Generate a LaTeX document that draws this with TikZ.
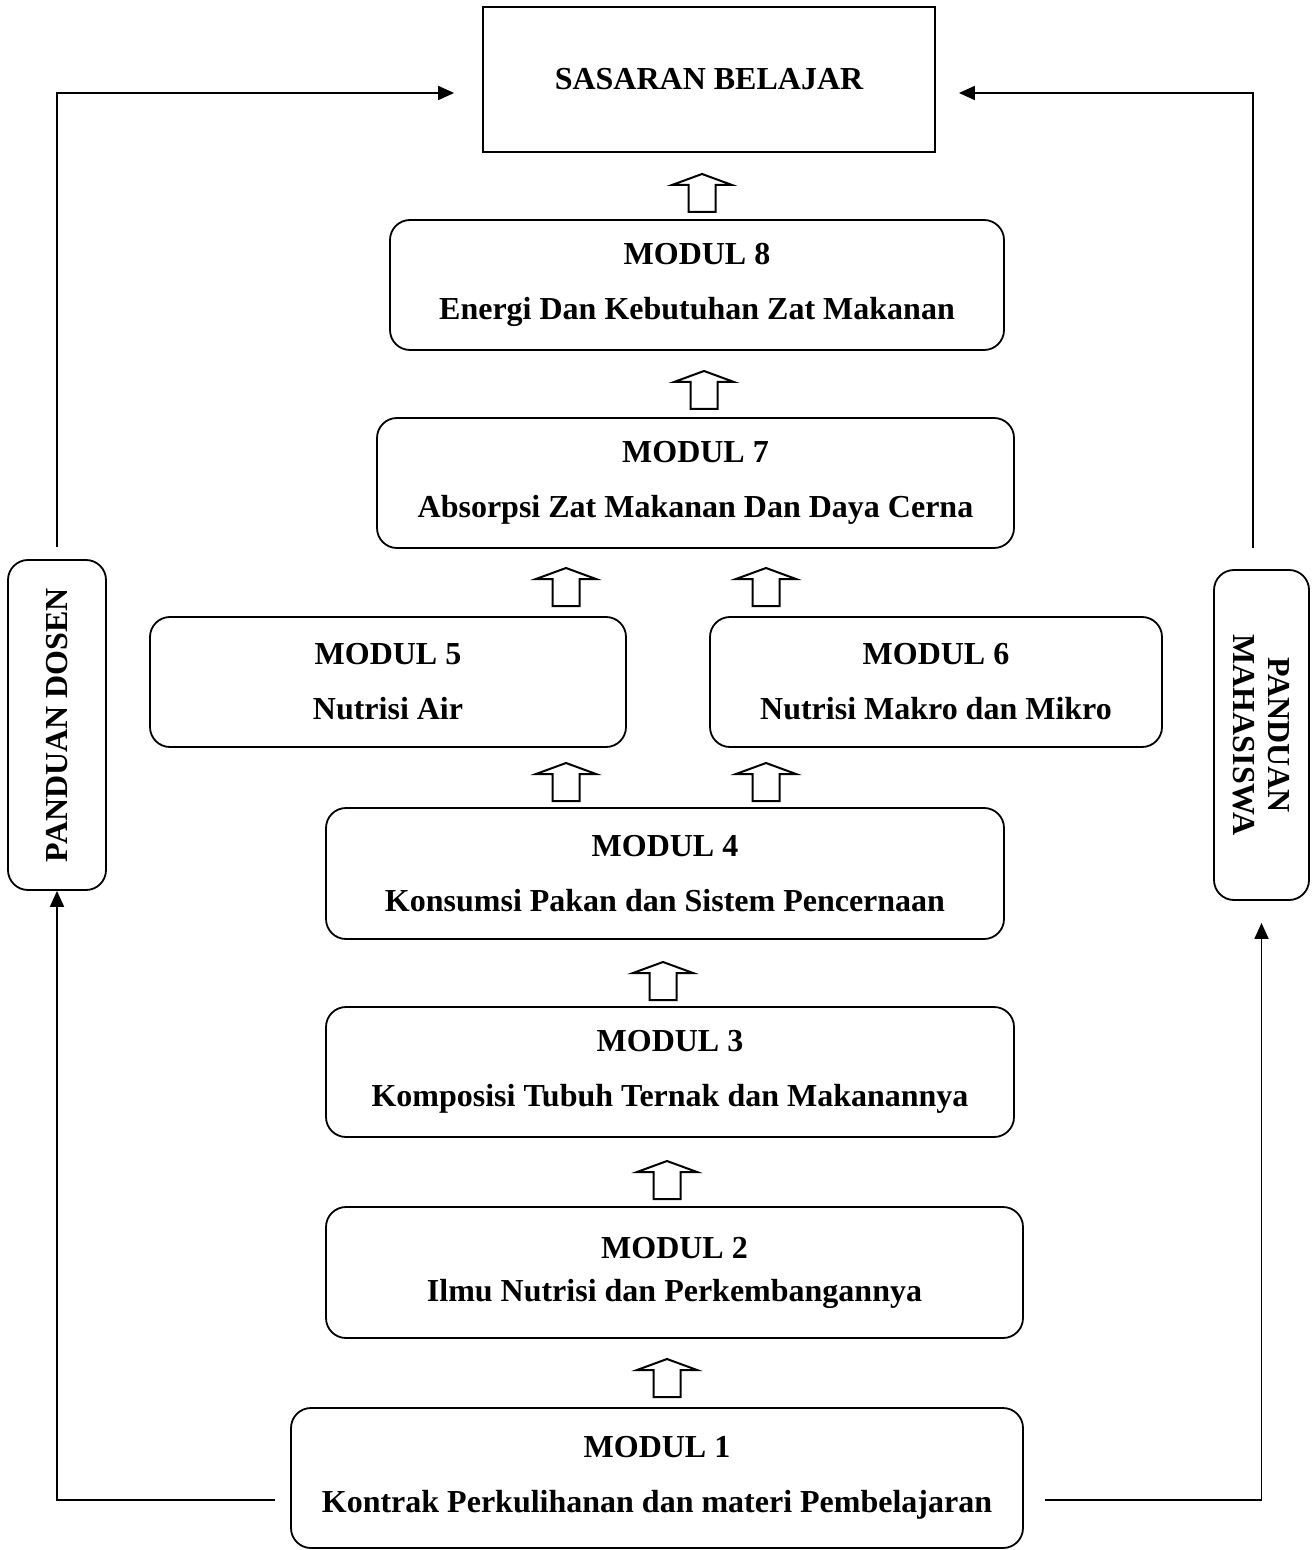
\documentclass[tikz,border=0pt]{standalone}
\usepackage{fontspec}
\setmainfont{Liberation Serif}
\usepackage{tikz}
\usetikzlibrary{arrows.meta, positioning, calc}

\tikzset{
  uparrow/.pic={
    \draw[line width=1pt, fill=white, line join=miter]
      (-13.5,0) -- (-13.5,-27) -- (-30,-27) -- (0,-38) -- (30,-27)
      -- (13.5,-27) -- (13.5,0) -- cycle;
  }
}

\begin{document}
\begin{tikzpicture}[
      x=0.5pt, y=-0.5pt,
      target/.style={rectangle, draw, line width=0.9pt,
                    minimum width=226pt, minimum height=72.5pt,
                    align=center, font=\fontsize{16}{19}\selectfont\bfseries},
      modul/.style={rectangle, rounded corners=10pt, draw, line width=0.9pt,
                    minimum height=65pt, inner sep=0pt,
                    align=center, font=\fontsize{16}{27.5}\selectfont\bfseries},
      side/.style={rectangle, rounded corners=10pt, draw, line width=0.9pt,
                    minimum width=165pt, inner sep=0pt,
                    align=center, font=\fontsize{16}{17.5}\selectfont\bfseries},
      flow/.style={-{Triangle[length=8pt, width=7pt]}, line width=0.9pt},
      line/.style={line width=0.9pt}
    ]
        \useasboundingbox (0,0) rectangle (1315,1550);
        \node[target] (sas) at (709,79.5) {SASARAN BELAJAR};
        \node[modul, minimum width=307pt] (m8) at (697,285) {MODUL 8\\Energi Dan Kebutuhan Zat Makanan};
        \node[modul, minimum width=318.5pt] (m7) at (695.5,483) {MODUL 7\\Absorpsi Zat Makanan Dan Daya Cerna};
        \node[modul, minimum width=238pt] (m5) at (388,682) {MODUL 5\\Nutrisi Air};
        \node[modul, minimum width=226pt] (m6) at (936,682) {MODUL 6\\Nutrisi Makro dan Mikro};
        \node[modul, minimum width=339pt, minimum height=65.5pt] (m4) at (665,873.5) {MODUL 4\\Konsumsi Pakan dan Sistem Pencernaan};
        \node[modul, minimum width=344pt] (m3) at (670,1072) {MODUL 3\\Komposisi Tubuh Ternak dan Makanannya};
        \node[modul, minimum width=348.5pt, minimum height=65.5pt,
              font=\fontsize{16}{21.5}\selectfont\bfseries] (m2) at (674.5,1272.5) {MODUL 2\\Ilmu Nutrisi dan Perkembangannya};
        \node[modul, minimum width=366pt, minimum height=70pt] (m1) at (657,1478) {MODUL 1\\Kontrak Perkulihanan dan materi Pembelajaran};
        \node[side, minimum height=49pt, rotate=90] (dosen) at (57,725) {PANDUAN DOSEN};
        \node[side, minimum height=47.5pt, rotate=-90] (mhs) at (1261.5,735) {PANDUAN\\MAHASISWA};

        % block arrows between the modules
        \pic at (702,212) {uparrow};
        \pic at (704,409) {uparrow};
        \pic at (566,606) {uparrow};
        \pic at (766,606) {uparrow};
        \pic at (566,801) {uparrow};
        \pic at (766,801) {uparrow};
        \pic at (663,1000) {uparrow};
        \pic at (667,1199) {uparrow};
        \pic at (667,1397) {uparrow};

        % guide loops on both sides
        \coordinate (l1) at (275,1500);
        \coordinate (r1) at (1045,1500);
        \coordinate (r2) at (1253,548);
        \draw[flow] (l1) -| (dosen.west);
        \draw[flow] ([yshift=6pt]dosen.east) |- ([xshift=-14pt, yshift=-6.75pt]sas.west);
        \draw[flow] (r1) -| ([yshift=-11pt]mhs.east);
        \draw[flow] (r2) |- ([xshift=11.5pt, yshift=-6.75pt]sas.east);
    \end{tikzpicture}
\end{document}
